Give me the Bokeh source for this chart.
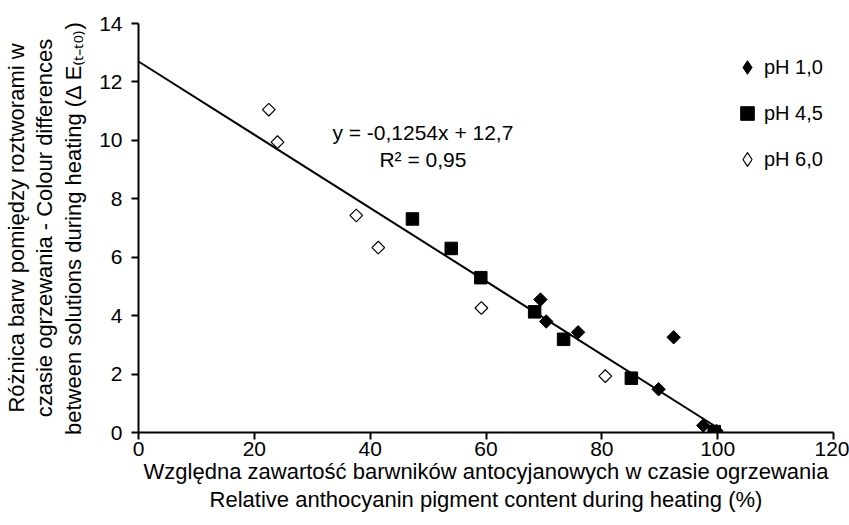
import math
from bokeh.plotting import figure
from bokeh.models import Range1d, FixedTicker, Legend, LegendItem, Label
from bokeh.embed import file_html
from bokeh.resources import INLINE

# --- data ---
ph10_x = [69.4, 70.4, 75.9, 92.4, 89.8, 97.5, 99.8]
ph10_y = [4.55, 3.80, 3.43, 3.26, 1.48, 0.24, 0.05]
ph45_x = [47.3, 54.0, 59.1, 68.4, 73.4, 85.1, 99.4]
ph45_y = [7.31, 6.30, 5.30, 4.13, 3.19, 1.86, 0.03]
ph60_x = [22.5, 24.0, 37.6, 41.4, 59.2, 80.6]
ph60_y = [11.05, 9.94, 7.43, 6.33, 4.26, 1.93]

series_labels = ["pH 1,0", "pH 4,5", "pH 6,0"]
slope = -0.1254
intercept = 12.7
fit_x = [0.0, 100.8]
fit_y = [intercept + slope * v for v in fit_x]
equation_text = "y = -0,1254x + 12,7"
r2_text = "R\u00b2 = 0,95"

x_ticks = [0, 20, 40, 60, 80, 100, 120]
y_ticks = [0, 2, 4, 6, 8, 10, 12, 14]

x_title = ("Względna zawartość barwników antocyjanowych w czasie ogrzewania\n"
           "Relative anthocyanin pigment content during heating (%)")
y_title = ("Różnica barw pomiędzy roztworami w\n"
           "czasie ogrzewania - Colour differences\n"
           "between solutions during heating (\u0394 E\u208d\u209c\u208b\u209c\u2080\u208e)")

FONT = "Liberation Sans"
NAN = float("nan")

p = figure(width=849, height=525, output_backend="svg", toolbar_location=None,
           x_range=Range1d(0, 120), y_range=Range1d(0, 14),
           min_border_left=136, min_border_right=16,
           min_border_top=23, min_border_bottom=93)
p.grid.visible = False
p.outline_line_color = None
p.background_fill_color = "white"
p.border_fill_color = "white"

p.xaxis.ticker = FixedTicker(ticks=x_ticks)
p.yaxis.ticker = FixedTicker(ticks=y_ticks)
p.xaxis.axis_label = x_title
p.yaxis.axis_label = y_title

for ax in (p.xaxis[0], p.yaxis[0]):
    ax.axis_line_width = 2
    ax.axis_line_color = "black"
    ax.major_tick_line_width = 2
    ax.major_tick_line_color = "black"
    ax.major_tick_in = 0
    ax.major_tick_out = 7
    ax.minor_tick_line_color = None
    ax.major_label_text_font = FONT
    ax.major_label_text_font_size = "21px"
    ax.major_label_text_color = "black"
    ax.axis_label_text_font = FONT
    ax.axis_label_text_font_size = "22px"
    ax.axis_label_text_font_style = "normal"
    ax.axis_label_text_color = "black"
    ax.axis_label_text_line_height = 1.15

p.yaxis[0].major_label_standoff = 9
p.yaxis[0].axis_label_standoff = 10
p.xaxis[0].major_label_standoff = 2
p.xaxis[0].axis_label_standoff = 0

# trend line
p.line(fit_x, fit_y, line_color="black", line_width=2)

r1 = p.scatter(ph10_x, ph10_y, marker="square", angle=math.pi / 4, size=9.5,
               fill_color="black", line_color="black", line_width=1)
r2 = p.scatter(ph45_x, ph45_y, marker="square", size=12.5,
               fill_color="black", line_color="black", line_width=1)
r3 = p.scatter(ph60_x, ph60_y, marker="square", angle=math.pi / 4, size=9.0,
               fill_color="white", line_color="black", line_width=1.2)

# legend-only proxies (legend markers are drawn without rotation); NaN = not drawn in plot
k1 = p.scatter([NAN], [NAN], marker="diamond", fill_color="black", line_color="black", line_width=1)
k3 = p.scatter([NAN], [NAN], marker="diamond", fill_color="white", line_color="black", line_width=1.2)

legend = Legend(items=[LegendItem(label=series_labels[0], renderers=[k1]),
                       LegendItem(label=series_labels[1], renderers=[r2]),
                       LegendItem(label=series_labels[2], renderers=[k3])],
                location=(592, 256), orientation="vertical",
                border_line_color=None, background_fill_alpha=0,
                padding=0, margin=0, spacing=12,
                glyph_width=34, glyph_height=34, label_height=34,
                label_standoff=-4,
                label_text_font=FONT, label_text_font_size="20px",
                label_text_color="black")
p.add_layout(legend, "center")

p.add_layout(Label(x=49.1, y=10.26, text=equation_text, text_align="center",
                   text_baseline="middle", text_font=FONT, text_font_size="21px",
                   text_color="black"))
p.add_layout(Label(x=49.1, y=9.34, text=r2_text, text_align="center",
                   text_baseline="middle", text_font=FONT, text_font_size="21px",
                   text_color="black"))

open("out.html", "w").write(file_html(p, INLINE))
